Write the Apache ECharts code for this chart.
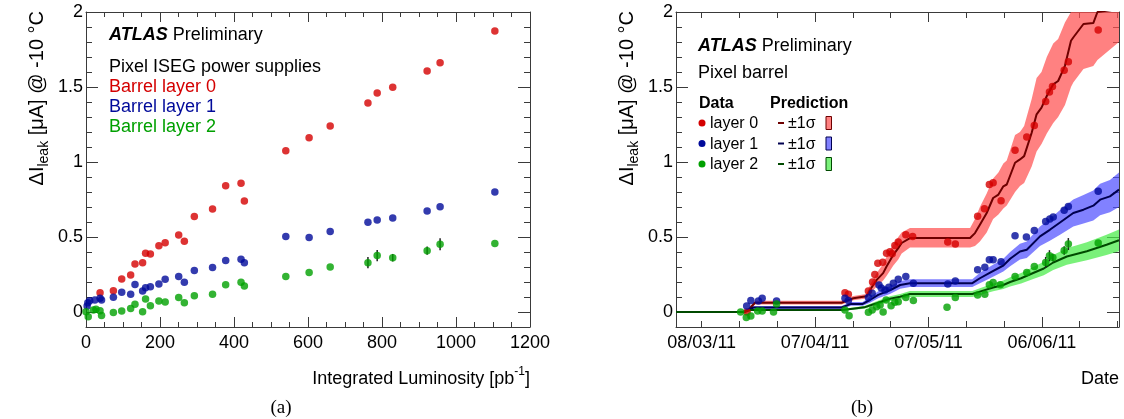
<!DOCTYPE html>
<html>
<head>
<meta charset="utf-8">
<script src="https://cdn.jsdelivr.net/npm/echarts@6/dist/echarts.min.js"></script>
<style>
html, body { margin: 0; padding: 0; background: #fff; }
#chart { width: 1124px; height: 419px; }
</style>
</head>
<body>
<div id="chart"></div>
<script>
// ---- panel (a): leakage current vs integrated luminosity [pb-1] ----
const lumiLabels = [0, 200, 400, 600, 800, 1000, 1200]
const lumiLayer0 = [[38,0.129],[74,0.142],[96.5,0.22],[120.7,0.247],[132.4,0.32],[153,0.329],[161,0.391],[174,0.387],[197,0.442],[214,0.462],[250.5,0.513],[265.8,0.471],[292.8,0.636],[342,0.687],[377.5,0.842],[419,0.858],[428,0.74],[540,1.075],[603,1.162],[660,1.24],[762,1.393],[787,1.46],[829,1.498],[922,1.607],[957,1.662],[1105,1.873]]
const lumiLayer1 = [[3,0.04],[5,0.062],[10,0.075],[24,0.08],[38,0.091],[42,0.08],[74,0.098],[96.5,0.131],[120.7,0.118],[132.4,0.184],[153,0.14],[161,0.162],[174,0.169],[197,0.187],[214,0.218],[250.5,0.236],[265.8,0.198],[292.8,0.276],[342,0.296],[377.5,0.344],[419,0.351],[428,0.329],[540,0.504],[603,0.496],[660,0.537],[762,0.598],[787,0.613],[829,0.627],[922,0.673],[957,0.702],[1105,0.8]]
const lumiLayer2 = [[0,0.002],[6,-0.031],[20,0.013],[27,0.018],[38,0.009],[42,-0.024],[74,-0.004],[96.5,0.007],[120.7,0.024],[132.4,0.051],[153,0.002],[161,0.087],[174,0.042],[197,0.073],[214,0.067],[250.5,0.096],[265.8,0.062],[292.8,0.109],[342,0.118],[377.5,0.182],[419,0.198],[428,0.173],[540,0.236],[603,0.264],[660,0.3],[762,0.329],[787,0.376],[829,0.362],[922,0.409],[957,0.451],[1105,0.456]]
// [x, y, error]
const lumiLayer2Err = [[762,0.329,0.037],[787,0.376,0.037],[829,0.362,0.025],[922,0.409,0.028],[957,0.451,0.04]]

// ---- panel (b): leakage current vs date (days after 08/03/11) ----
const dateLabels = ['08/03/11', '07/04/11', '07/05/11', '06/06/11']
const dateLabelDays = [0, 30, 60, 90]
const dateLayer0 = [[12.0,0.0],[37.9,0.129],[38.8,0.118],[44.1,0.14],[45.2,0.2],[45.8,0.25],[46.6,0.325],[47.9,0.332],[48.9,0.392],[49.8,0.401],[50.4,0.388],[51.1,0.443],[52.0,0.466],[54.0,0.515],[55.8,0.504],[65.1,0.466],[67.1,0.453],[73.0,0.638],[74.8,0.689],[76.1,0.85],[77.1,0.861],[79.2,0.742],[82.9,1.079],[86.0,1.166],[88.0,1.244],[91.0,1.403],[92.0,1.467],[92.8,1.503],[95.9,1.612],[97.0,1.668],[104.9,1.88]]
const dateLayer1 = [[11.9,0.04],[13.0,0.076],[15.0,0.074],[16.0,0.092],[19.8,0.074],[37.9,0.092],[38.8,0.076],[44.1,0.096],[45.1,0.125],[46.9,0.18],[47.5,0.16],[48.5,0.147],[49.5,0.165],[50.7,0.192],[52.0,0.219],[54.0,0.236],[56.0,0.192],[65.1,0.187],[67.1,0.207],[73.0,0.281],[74.9,0.299],[76.1,0.348],[77.1,0.348],[79.2,0.335],[82.9,0.508],[85.9,0.5],[88.0,0.544],[91.0,0.604],[92.1,0.62],[93.0,0.633],[95.9,0.678],[97.0,0.704],[104.9,0.805]]
const dateLayer2 = [[10.3,0.0],[11.8,-0.036],[13.0,-0.027],[14.8,0.007],[16.0,0.007],[19.0,0.0],[19.8,0.054],[37.9,0.013],[39.0,-0.025],[44.1,-0.002],[45.1,0.013],[46.3,0.035],[47.2,0.047],[48.0,0.0],[48.8,0.08],[50.1,0.042],[51.1,0.065],[52.0,0.069],[54.0,0.096],[56.0,0.076],[64.9,0.031],[67.1,0.096],[73.0,0.114],[74.9,0.118],[76.1,0.181],[77.1,0.196],[79.0,0.181],[82.9,0.236],[86.0,0.263],[88.0,0.303],[91.0,0.33],[92.0,0.375],[92.9,0.363],[95.9,0.41],[97.0,0.453],[104.9,0.46]]
const dateLayer2Err = [[91.0,0.33,0.037],[92.0,0.375,0.037],[92.9,0.363,0.025],[95.9,0.41,0.028],[97.0,0.453,0.04]]
// prediction: [day, central, -1 sigma, +1 sigma]
const predLayer0 = [[-6.8,0,0,0],[11.5,0,0,0],[12.3,0.013,0.005,0.022],[14.1,0.062,0.05,0.075],[37.0,0.062,0.05,0.075],[40.1,0.092,0.078,0.106],[43.6,0.105,0.09,0.12],[44.5,0.147,0.12,0.18],[46.3,0.214,0.17,0.26],[48.0,0.259,0.21,0.32],[48.9,0.303,0.24,0.37],[50.7,0.381,0.31,0.45],[52.0,0.426,0.35,0.5],[52.9,0.46,0.39,0.53],[55.1,0.493,0.43,0.56],[71.0,0.493,0.43,0.56],[72.3,0.526,0.44,0.62],[73.6,0.582,0.47,0.7],[75.4,0.66,0.53,0.79],[77.1,0.76,0.62,0.89],[78.5,0.783,0.65,0.93],[79.8,0.838,0.69,0.99],[80.7,0.85,0.71,1.01],[82.9,0.995,0.8,1.18],[84.2,1.017,0.84,1.2],[85.3,1.039,0.86,1.24],[87.3,1.195,0.97,1.42],[88.6,1.318,1.07,1.56],[89.9,1.362,1.12,1.6],[91.3,1.44,1.19,1.7],[93.0,1.518,1.26,1.79],[94.3,1.54,1.3,1.82],[96.1,1.641,1.38,1.93],[97.7,1.808,1.5,2.1],[98.3,1.83,1.53,2.14],[101.0,1.92,1.62,2.25],[103.6,1.926,1.64,2.25],[104.7,2.0,1.68,2.3],[110.4,2.02,1.8,2.3]]
const predLayer1 = [[-6.8,0,0,0],[11.0,0,0,0],[13.7,0.03,0.02,0.04],[37.0,0.03,0.02,0.04],[39.5,0.054,0.042,0.066],[42.6,0.054,0.042,0.066],[44.5,0.08,0.062,0.1],[46.7,0.114,0.092,0.138],[49.8,0.145,0.12,0.172],[52.5,0.18,0.155,0.206],[55.1,0.192,0.166,0.219],[71.6,0.192,0.166,0.219],[73.6,0.225,0.192,0.262],[76.3,0.263,0.225,0.303],[79.8,0.31,0.27,0.355],[81.6,0.355,0.305,0.4],[84.2,0.403,0.35,0.455],[86.0,0.415,0.36,0.47],[89.5,0.504,0.44,0.57],[92.1,0.548,0.475,0.62],[94.8,0.597,0.515,0.68],[98.3,0.66,0.57,0.75],[101.0,0.682,0.59,0.78],[103.6,0.709,0.61,0.81],[105.4,0.749,0.645,0.855],[108.0,0.771,0.665,0.88],[110.4,0.816,0.7,0.93]]
const predLayer2 = [[-6.8,0,0,0],[11.0,0,0,0],[13.0,0.013,0.008,0.018],[37.0,0.013,0.008,0.018],[40.0,0.022,0.015,0.03],[43.0,0.031,0.022,0.04],[46.3,0.058,0.045,0.072],[49.8,0.088,0.072,0.105],[52.5,0.102,0.085,0.12],[55.1,0.12,0.1,0.14],[71.6,0.12,0.1,0.14],[73.6,0.136,0.114,0.158],[77.1,0.163,0.138,0.19],[79.8,0.18,0.153,0.21],[81.6,0.2,0.17,0.232],[84.5,0.225,0.19,0.26],[87.7,0.26,0.22,0.3],[90.5,0.29,0.245,0.335],[93.0,0.33,0.28,0.38],[96.6,0.37,0.315,0.425],[101.9,0.405,0.345,0.465],[107.1,0.448,0.38,0.515],[110.4,0.478,0.405,0.55]]

const yLabels = [0, 0.5, 1, 1.5, 2]

const FONT = '"Liberation Sans", Arial, sans-serif'
const FRAME = '#3a3a3a'
const RED = '#d40000', BLUE = '#000a9a', GREEN = '#00a000'
const RED_D = '#6e0000', BLUE_D = '#000050', GREEN_D = '#004a00'
const RED_B = 'rgba(255,80,80,0.72)', BLUE_B = 'rgba(80,80,255,0.72)', GREEN_B = 'rgba(70,235,70,0.72)'

function range(a, b, s) {
	let out = []
	for (let v = a; v <= b + 1e-9; v += s) out.push(Math.round(v * 1000) / 1000)
	return out
}

// 4 axes per dimension: labelled side (major, minor), opposite side (major, minor)
function axisSet(dim, gi, min, max, major, minor, majLen, minLen, labelVals, fmt) {
	let sides = dim === 'x' ? ['bottom', 'top'] : ['left', 'right']
	let list = []
	sides.forEach((pos, k) => {
		;[[major, majLen, true], [minor, minLen, false]].forEach(([vals, len, main]) => {
			list.push({
				type: 'value',
				gridIndex: gi,
				position: pos,
				min: min,
				max: max,
				axisLine: { show: main, onZero: false, lineStyle: { color: FRAME, width: 1 } },
				axisTick: { show: true, inside: true, length: len, customValues: vals, lineStyle: { color: FRAME, width: 1 } },
				axisLabel: k === 0 && main
					? { show: true, customValues: labelVals, formatter: fmt, color: '#000', fontSize: 18, fontFamily: FONT, margin: dim === 'x' ? 7 : 3 }
					: { show: false },
				splitLine: { show: false },
				minorTick: { show: false },
			})
		})
	})
	return list
}

function scatter(data, color, xi, yi) {
	return {
		type: 'scatter', data: data, xAxisIndex: xi, yAxisIndex: yi,
		symbol: 'circle', symbolSize: 7.5, itemStyle: { color: color }, z: 5, silent: true,
	}
}

function errorBars(data, xi, yi) {
	return {
		type: 'custom', xAxisIndex: xi, yAxisIndex: yi, z: 4, silent: true,
		data: data.map((p) => [p[0], p[1] - p[2], p[1] + p[2]]),
		encode: { x: 0, y: [1, 2] },
		renderItem(params, api) {
			let a = api.coord([api.value(0), api.value(1)])
			let b = api.coord([api.value(0), api.value(2)])
			return { type: 'line', shape: { x1: a[0], y1: a[1], x2: b[0], y2: b[1] }, style: { stroke: '#222', lineWidth: 1.5 } }
		},
	}
}

function band(pred, color, xi, yi) {
	return {
		type: 'custom', xAxisIndex: xi, yAxisIndex: yi, z: 2, silent: true,
		data: pred.map((p) => [p[0], p[2], p[3]]),
		encode: { x: 0, y: [1, 2] },
		renderItem(params, api) {
			if (params.dataIndex !== 0) return null
			let cs = params.coordSys
			let top = [], bot = []
			pred.forEach((p) => {
				top.push(api.coord([p[0], p[3]]))
				bot.push(api.coord([p[0], p[2]]))
			})
			let pts = top.concat(bot.reverse()).map((q) => [q[0], Math.min(Math.max(q[1], cs.y), cs.y + cs.height)])
			return { type: 'polygon', shape: { points: pts }, style: { fill: color } }
		},
	}
}

function predLine(pred, color, xi, yi) {
	return {
		type: 'line', xAxisIndex: xi, yAxisIndex: yi, z: 3, silent: true,
		data: pred.map((p) => [p[0], p[1]]),
		showSymbol: false, clip: true,
		lineStyle: { color: color, width: 2 },
	}
}

function txt(x, y, text, opts) {
	return {
		type: 'text', x: x, y: y, silent: true,
		style: Object.assign({ text: text, font: '18px ' + FONT, fill: '#000', verticalAlign: 'middle' }, opts || {}),
	}
}

const richBase = {
	n: { fontSize: 20, fontFamily: FONT, lineHeight: 28, verticalAlign: 'middle' },
	s: { fontSize: 14, fontFamily: FONT, lineHeight: 28, verticalAlign: 'bottom' },
	p: { fontSize: 12, fontFamily: FONT, lineHeight: 26, verticalAlign: 'top' },
	b: { fontSize: 18, fontFamily: FONT, fontWeight: 'bold', fontStyle: 'italic' },
	r: { fontSize: 18, fontFamily: FONT },
}
const yTitle = '{n|ΔI}{s|leak}{n| [μA] @ -10 °C}'

let graphics = [
	// panel (a) texts
	txt(109, 35, '{b|ATLAS}{r| Preliminary}', { rich: richBase }),
	txt(109, 67, 'Pixel ISEG power supplies'),
	txt(109, 87, 'Barrel layer 0', { fill: RED }),
	txt(109, 107, 'Barrel layer 1', { fill: BLUE }),
	txt(109, 127, 'Barrel layer 2', { fill: GREEN }),
	Object.assign(txt(37, 11, yTitle, { align: 'right', rich: richBase }), { rotation: Math.PI / 2 }),
	txt(530, 379, '{r|Integrated Luminosity [pb}{p|-1}{r|]}', { align: 'right', rich: richBase }),
	txt(281, 408, '(a)', { align: 'center', font: '19px "Liberation Serif", serif' }),
	// panel (b) texts
	txt(698, 46, '{b|ATLAS}{r| Preliminary}', { rich: richBase }),
	txt(698, 73, 'Pixel barrel'),
	txt(699, 104, 'Data', { font: 'bold 16px ' + FONT }),
	txt(770, 104, 'Prediction', { font: 'bold 16px ' + FONT }),
	Object.assign(txt(627, 11, yTitle, { align: 'right', rich: richBase }), { rotation: Math.PI / 2 }),
	txt(1119, 379, 'Date', { align: 'right' }),
	txt(862, 408, '(b)', { align: 'center', font: '19px "Liberation Serif", serif' }),
]
const legRows = [
	['layer 0', RED, RED_D, RED_B, 124],
	['layer 1', BLUE, BLUE_D, BLUE_B, 144.5],
	['layer 2', GREEN, GREEN_D, GREEN_B, 165],
]
legRows.forEach(([name, c, cd, cb, cy]) => {
	graphics.push({ type: 'circle', silent: true, shape: { cx: 702, cy: cy - 1, r: 3.5 }, style: { fill: c } })
	graphics.push(txt(710, cy, name, { font: '16px ' + FONT }))
	graphics.push({ type: 'line', silent: true, shape: { x1: 778, y1: cy - 1, x2: 784, y2: cy - 1 }, style: { stroke: cd, lineWidth: 2 } })
	graphics.push(txt(788, cy, '±1σ', { font: '16px ' + FONT }))
	graphics.push({ type: 'rect', silent: true, shape: { x: 826, y: cy - 7.5, width: 5.5, height: 13 }, style: { fill: cb, stroke: cd, lineWidth: 1 } })
})

const yMajor = yLabels
const yMinor = range(-0.1, 2, 0.1)

let xAxes = []
	.concat(axisSet('x', 0, 0, 1200, lumiLabels, range(0, 1200, 50), 10, 5, lumiLabels, (v) => String(v)))
	.concat(axisSet('x', 1, -6.8, 110.4, [30, 60, 90], range(0, 110, 10), 10, 6, dateLabelDays, (v) => dateLabels[dateLabelDays.indexOf(v)]))
let yAxes = []
	.concat(axisSet('y', 0, -0.1, 2, yMajor, yMinor, 12, 6, yLabels, (v) => String(v)))
	.concat(axisSet('y', 1, -0.1, 2, yMajor, yMinor, 12, 6, yLabels, (v) => String(v)))

let option = {
	animation: false,
	backgroundColor: '#fff',
	grid: [
		{ left: 86, top: 12, width: 444, height: 315, outerBoundsMode: 'none' },
		{ left: 676, top: 12, width: 443, height: 315, outerBoundsMode: 'none' },
	],
	xAxis: xAxes,
	yAxis: yAxes,
	graphic: graphics,
	series: [
		errorBars(lumiLayer2Err, 0, 0),
		scatter(lumiLayer0, RED, 0, 0),
		scatter(lumiLayer1, BLUE, 0, 0),
		scatter(lumiLayer2, GREEN, 0, 0),
		band(predLayer0, RED_B, 4, 4),
		band(predLayer1, BLUE_B, 4, 4),
		band(predLayer2, GREEN_B, 4, 4),
		predLine(predLayer0, RED_D, 4, 4),
		predLine(predLayer1, BLUE_D, 4, 4),
		predLine(predLayer2, GREEN_D, 4, 4),
		errorBars(dateLayer2Err, 4, 4),
		scatter(dateLayer0, RED, 4, 4),
		scatter(dateLayer1, BLUE, 4, 4),
		scatter(dateLayer2, GREEN, 4, 4),
	],
}

let chart = echarts.init(document.getElementById('chart'))
chart.setOption(option)
window.addEventListener('resize', chart.resize)
</script>
</body>
</html>
